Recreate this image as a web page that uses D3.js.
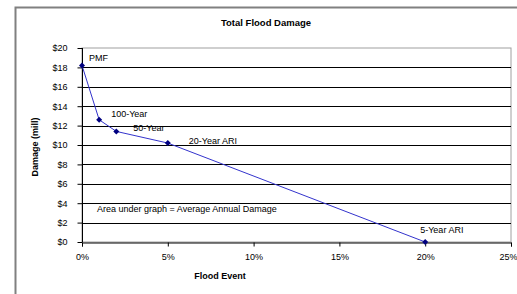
<!DOCTYPE html>
<html>
<head>
<meta charset="utf-8">
<script src="https://cdn.jsdelivr.net/npm/d3@7"></script>
<style>
  body { margin: 0; background: #fff; }
  svg { display: block; font-family: "Liberation Sans", Arial, sans-serif; }
</style>
</head>
<body>
<div id="chart"></div>
<script>
// flood event probability (AEP) vs damage ($ mill)
const events = ['PMF', '100-Year', '50-Year', '20-Year ARI', '5-Year ARI'];
const aep = [0, 0.01, 0.02, 0.05, 0.20];
const damage = [18.2, 12.6, 11.4, 10.2, 0];
const xTicks = [0, 0.05, 0.10, 0.15, 0.20, 0.25];
const yTicks = [0, 2, 4, 6, 8, 10, 12, 14, 16, 18, 20];

const width = 517, height = 294;
const data = events.map((e, i) => ({ name: e, x: aep[i], y: damage[i] }));

const svg = d3.select('#chart').append('svg')
  .attr('width', width).attr('height', height);

// outer chart frame
svg.append('rect')
  .attr('x', 15.5).attr('y', 7.5)
  .attr('width', 520).attr('height', 320)
  .attr('fill', '#fff').attr('stroke', '#808080').attr('stroke-width', 2);

const x = d3.scaleLinear().domain([0, 0.25]).range([82, 511]);
const y = d3.scaleLinear().domain([0, 20]).range([242, 48]);

// plot area border
svg.append('rect')
  .attr('x', x(0)).attr('y', y(20))
  .attr('width', x(0.25) - x(0)).attr('height', y(0) - y(20))
  .attr('fill', 'none').attr('stroke', '#a0a0a0').attr('stroke-width', 1);

// gridlines
svg.append('g')
  .selectAll('line')
  .data(yTicks.filter(d => d > 0 && d < 20))
  .join('line')
  .attr('x1', x(0)).attr('x2', x(0.25))
  .attr('y1', d => Math.round(y(d)) + 0.5).attr('y2', d => Math.round(y(d)) + 0.5)
  .attr('stroke', '#000').attr('stroke-width', 1);

const yAxis = svg.append('g')
  .attr('transform', `translate(${Math.round(x(0)) + 0.5},0)`)
  .call(d3.axisLeft(y).tickValues(yTicks).tickSize(5).tickPadding(10)
    .tickFormat(d => '$' + d));

const xAxis = svg.append('g')
  .attr('transform', `translate(0,${Math.round(y(0)) + 0.5})`)
  .call(d3.axisBottom(x).tickValues(xTicks).tickSize(4).tickPadding(7)
    .tickFormat(d3.format('.0%')));

[yAxis, xAxis].forEach(a => {
  a.select('.domain').attr('stroke', '#000');
  a.selectAll('.tick line').attr('stroke', '#000');
  a.selectAll('.tick text').attr('font-size', 9).attr('fill', '#000')
    .attr('font-family', '"Liberation Sans", Arial, sans-serif');
});
yAxis.select('.domain').attr('d', `M-0,${y(0)}V${y(20)}`);
// last x label sits against the right edge
xAxis.selectAll('.tick text').filter(d => d === 0.25)
  .attr('text-anchor', 'end').attr('dx', 6);

// title and axis labels
svg.append('text')
  .attr('x', 266).attr('y', 26)
  .attr('text-anchor', 'middle').attr('font-size', 9.5).attr('font-weight', 'bold')
  .text('Total Flood Damage');

svg.append('text')
  .attr('x', 220).attr('y', 279)
  .attr('text-anchor', 'middle').attr('font-size', 9).attr('font-weight', 'bold')
  .text('Flood Event');

svg.append('text')
  .attr('transform', 'translate(38,147) rotate(-90)')
  .attr('text-anchor', 'middle').attr('font-size', 9).attr('font-weight', 'bold')
  .text('Damage (mill)');

// the curve
const line = d3.line().x(d => x(d.x)).y(d => y(d.y));
svg.append('path')
  .datum(data)
  .attr('d', line)
  .attr('fill', 'none').attr('stroke', '#3333cc').attr('stroke-width', 1);

svg.append('g')
  .selectAll('path')
  .data(data)
  .join('path')
  .attr('transform', d => `translate(${x(d.x)},${y(d.y)}) rotate(45)`)
  .attr('d', d3.symbol(d3.symbolSquare, 18))
  .attr('fill', '#000080');

// point labels
const labelOffset = { 'PMF': [7, -4], '100-Year': [12, -3], '50-Year': [17, 0], '20-Year ARI': [21, 1], '5-Year ARI': [-5, -9] };
svg.append('g')
  .selectAll('text')
  .data(data)
  .join('text')
  .attr('x', d => x(d.x) + labelOffset[d.name][0])
  .attr('y', d => y(d.y) + labelOffset[d.name][1])
  .attr('font-size', 9).attr('fill', '#000')
  .text(d => d.name);

svg.append('text')
  .attr('x', 97).attr('y', y(3.1))
  .attr('font-size', 9).attr('fill', '#000')
  .text('Area under graph = Average Annual Damage');
</script>
</body>
</html>
